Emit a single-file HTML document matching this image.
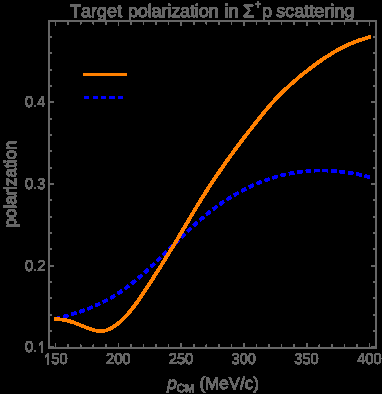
<!DOCTYPE html>
<html><head><meta charset="utf-8"><title>Target polarization</title>
<style>
html,body{margin:0;padding:0;background:#000;}
body{width:382px;height:394px;overflow:hidden;position:relative;font-family:"Liberation Sans",sans-serif;}
</style></head><body>
<svg width="382" height="394" viewBox="0 0 382 394" style="display:block;position:absolute;left:0;top:0">
<defs><filter id="fB" x="0" y="0" width="382" height="394" filterUnits="userSpaceOnUse" color-interpolation-filters="sRGB"><feComponentTransfer in="SourceAlpha" result="a"><feFuncA type="discrete" tableValues="0 1 1 1 1 1 1 1 1 1 1 1 1 1 1 1"/></feComponentTransfer><feFlood flood-color="#0000ff" flood-opacity="1" result="c"/><feComposite in="c" in2="a" operator="in"/></filter><filter id="fO" x="0" y="0" width="382" height="394" filterUnits="userSpaceOnUse" color-interpolation-filters="sRGB"><feComponentTransfer in="SourceAlpha" result="a"><feFuncA type="discrete" tableValues="0 1 1 1 1 1 1 1 1 1 1 1 1 1 1 1"/></feComponentTransfer><feFlood flood-color="#ff8000" flood-opacity="1" result="c"/><feComposite in="c" in2="a" operator="in"/></filter><filter id="fG" x="0" y="0" width="382" height="394" filterUnits="userSpaceOnUse" color-interpolation-filters="sRGB"><feComponentTransfer in="SourceAlpha" result="a"><feFuncA type="discrete" tableValues="0 1 1 1 1 1 1 1 1 1 1 1 1 1 1 1"/></feComponentTransfer><feFlood flood-color="#666666" flood-opacity="1" result="c"/><feComposite in="c" in2="a" operator="in"/></filter><clipPath id="cx"><rect x="51" y="345" width="30" height="30"/></clipPath><clipPath id="cy"><rect x="15" y="335" width="22.4" height="25"/></clipPath></defs>
<rect x="0" y="0" width="382" height="394" fill="#000"/>
<g filter="url(#fB)">
<path d="M55.20,318.86 L56.64,318.50 L58.08,318.13 L59.52,317.77 L60.96,317.39 L62.39,317.01 L63.83,316.62 L65.27,316.23 L66.71,315.82 L68.15,315.41 L69.59,314.99 L71.03,314.56 L72.47,314.13 L73.90,313.68 L75.34,313.22 L76.78,312.76 L78.22,312.28 L79.66,311.79 L81.10,311.29 L82.54,310.78 L83.98,310.26 L85.42,309.73 L86.85,309.18 L88.29,308.62 L89.73,308.04 L91.17,307.45 L92.61,306.85 L94.05,306.23 L95.49,305.60 L96.93,304.95 L98.36,304.29 L99.80,303.61 L101.24,302.91 L102.68,302.20 L104.12,301.47 L105.56,300.72 L107.00,299.95 L108.44,299.16 L109.87,298.36 L111.31,297.54 L112.75,296.70 L114.19,295.83 L115.63,294.95 L117.07,294.05 L118.51,293.12 L119.95,292.18 L121.39,291.21 L122.82,290.22 L124.26,289.21 L125.70,288.17 L127.14,287.11 L128.58,286.03 L130.02,284.93 L131.46,283.80 L132.90,282.65 L134.33,281.49 L135.77,280.30 L137.21,279.09 L138.65,277.87 L140.09,276.63 L141.53,275.37 L142.97,274.10 L144.41,272.82 L145.85,271.52 L147.28,270.20 L148.72,268.88 L150.16,267.54 L151.60,266.19 L153.04,264.83 L154.48,263.46 L155.92,262.09 L157.36,260.70 L158.79,259.31 L160.23,257.92 L161.67,256.52 L163.11,255.11 L164.55,253.70 L165.99,252.29 L167.43,250.87 L168.87,249.45 L170.31,248.04 L171.74,246.62 L173.18,245.20 L174.62,243.79 L176.06,242.38 L177.50,240.97 L178.94,239.56 L180.38,238.16 L181.82,236.77 L183.25,235.38 L184.69,234.00 L186.13,232.63 L187.57,231.27 L189.01,229.91 L190.45,228.57 L191.89,227.24 L193.33,225.92 L194.76,224.61 L196.20,223.31 L197.64,222.03 L199.08,220.77 L200.52,219.52 L201.96,218.29 L203.40,217.07 L204.84,215.87 L206.28,214.69 L207.71,213.53 L209.15,212.38 L210.59,211.25 L212.03,210.14 L213.47,209.04 L214.91,207.97 L216.35,206.90 L217.79,205.86 L219.22,204.83 L220.66,203.82 L222.10,202.82 L223.54,201.84 L224.98,200.88 L226.42,199.94 L227.86,199.01 L229.30,198.09 L230.74,197.19 L232.17,196.31 L233.61,195.45 L235.05,194.60 L236.49,193.77 L237.93,192.95 L239.37,192.15 L240.81,191.36 L242.25,190.59 L243.68,189.84 L245.12,189.10 L246.56,188.37 L248.00,187.66 L249.44,186.97 L250.88,186.29 L252.32,185.63 L253.76,184.98 L255.19,184.35 L256.63,183.74 L258.07,183.13 L259.51,182.55 L260.95,181.97 L262.39,181.42 L263.83,180.87 L265.27,180.35 L266.71,179.83 L268.14,179.33 L269.58,178.85 L271.02,178.38 L272.46,177.92 L273.90,177.48 L275.34,177.05 L276.78,176.64 L278.22,176.24 L279.65,175.86 L281.09,175.49 L282.53,175.13 L283.97,174.79 L285.41,174.46 L286.85,174.14 L288.29,173.84 L289.73,173.55 L291.17,173.28 L292.60,173.01 L294.04,172.77 L295.48,172.53 L296.92,172.31 L298.36,172.10 L299.80,171.91 L301.24,171.73 L302.68,171.56 L304.11,171.40 L305.55,171.26 L306.99,171.13 L308.43,171.01 L309.87,170.91 L311.31,170.81 L312.75,170.74 L314.19,170.67 L315.63,170.61 L317.06,170.57 L318.50,170.54 L319.94,170.53 L321.38,170.52 L322.82,170.53 L324.26,170.55 L325.70,170.58 L327.14,170.62 L328.57,170.68 L330.01,170.74 L331.45,170.82 L332.89,170.91 L334.33,171.02 L335.77,171.13 L337.21,171.25 L338.65,171.39 L340.08,171.54 L341.52,171.70 L342.96,171.87 L344.40,172.05 L345.84,172.24 L347.28,172.45 L348.72,172.66 L350.16,172.89 L351.60,173.13 L353.03,173.38 L354.47,173.63 L355.91,173.90 L357.35,174.18 L358.79,174.47 L360.23,174.78 L361.67,175.09 L363.11,175.41 L364.54,175.74 L365.98,176.09 L367.42,176.44 L368.86,176.80 L370.30,177.17" fill="none" stroke="#0000ff" stroke-width="3.0" stroke-dasharray="5.0 3.483" stroke-dashoffset="0.0"/>
<rect x="84.2" y="96.2" width="4.599999999999994" height="2.5999999999999943" fill="#0000ff"/>
<rect x="93.2" y="96.2" width="4.599999999999994" height="2.5999999999999943" fill="#0000ff"/>
<rect x="101.2" y="96.2" width="4.599999999999994" height="2.5999999999999943" fill="#0000ff"/>
<rect x="109.2" y="96.2" width="5.599999999999994" height="2.5999999999999943" fill="#0000ff"/>
<rect x="118.2" y="96.2" width="4.599999999999994" height="2.5999999999999943" fill="#0000ff"/>
</g>
<g filter="url(#fO)">
<path d="M54.40,318.97 L55.84,319.03 L57.29,319.12 L58.73,319.24 L60.18,319.39 L61.62,319.57 L63.07,319.79 L64.51,320.05 L65.96,320.34 L67.40,320.66 L68.85,321.03 L70.29,321.44 L71.74,321.88 L73.18,322.37 L74.63,322.89 L76.07,323.43 L77.52,324.00 L78.96,324.58 L80.41,325.17 L81.85,325.77 L83.29,326.37 L84.74,326.96 L86.18,327.53 L87.63,328.09 L89.07,328.63 L90.52,329.13 L91.96,329.60 L93.41,330.01 L94.85,330.37 L96.30,330.65 L97.74,330.86 L99.19,330.99 L100.63,331.02 L102.08,330.95 L103.52,330.77 L104.97,330.49 L106.41,330.11 L107.86,329.63 L109.30,329.06 L110.75,328.39 L112.19,327.62 L113.63,326.77 L115.08,325.83 L116.52,324.80 L117.97,323.68 L119.41,322.48 L120.86,321.20 L122.30,319.84 L123.75,318.40 L125.19,316.89 L126.64,315.31 L128.08,313.67 L129.53,311.96 L130.97,310.19 L132.42,308.37 L133.86,306.50 L135.31,304.57 L136.75,302.61 L138.20,300.60 L139.64,298.55 L141.08,296.47 L142.53,294.36 L143.97,292.22 L145.42,290.05 L146.86,287.87 L148.31,285.66 L149.75,283.43 L151.20,281.18 L152.64,278.92 L154.09,276.65 L155.53,274.37 L156.98,272.09 L158.42,269.80 L159.87,267.50 L161.31,265.21 L162.76,262.90 L164.20,260.59 L165.65,258.28 L167.09,255.96 L168.54,253.64 L169.98,251.30 L171.42,248.95 L172.87,246.59 L174.31,244.22 L175.76,241.84 L177.20,239.44 L178.65,237.03 L180.09,234.61 L181.54,232.18 L182.98,229.75 L184.43,227.31 L185.87,224.86 L187.32,222.42 L188.76,219.97 L190.21,217.53 L191.65,215.10 L193.10,212.67 L194.54,210.26 L195.99,207.87 L197.43,205.49 L198.87,203.14 L200.32,200.80 L201.76,198.48 L203.21,196.18 L204.65,193.90 L206.10,191.64 L207.54,189.39 L208.99,187.16 L210.43,184.95 L211.88,182.76 L213.32,180.58 L214.77,178.42 L216.21,176.27 L217.66,174.14 L219.10,172.03 L220.55,169.93 L221.99,167.84 L223.44,165.77 L224.88,163.72 L226.33,161.67 L227.77,159.65 L229.21,157.63 L230.66,155.63 L232.10,153.64 L233.55,151.66 L234.99,149.70 L236.44,147.74 L237.88,145.80 L239.33,143.87 L240.77,141.95 L242.22,140.05 L243.66,138.15 L245.11,136.26 L246.55,134.38 L248.00,132.52 L249.44,130.66 L250.89,128.81 L252.33,126.97 L253.78,125.14 L255.22,123.32 L256.66,121.50 L258.11,119.70 L259.55,117.90 L261.00,116.11 L262.44,114.33 L263.89,112.56 L265.33,110.82 L266.78,109.09 L268.22,107.39 L269.67,105.72 L271.11,104.07 L272.56,102.46 L274.00,100.88 L275.45,99.32 L276.89,97.79 L278.34,96.29 L279.78,94.81 L281.23,93.36 L282.67,91.93 L284.12,90.53 L285.56,89.15 L287.00,87.79 L288.45,86.45 L289.89,85.13 L291.34,83.83 L292.78,82.54 L294.23,81.28 L295.67,80.03 L297.12,78.80 L298.56,77.59 L300.01,76.39 L301.45,75.20 L302.90,74.03 L304.34,72.87 L305.79,71.72 L307.23,70.58 L308.68,69.46 L310.12,68.36 L311.57,67.26 L313.01,66.18 L314.45,65.12 L315.90,64.06 L317.34,63.03 L318.79,62.00 L320.23,61.00 L321.68,60.01 L323.12,59.03 L324.57,58.07 L326.01,57.12 L327.46,56.20 L328.90,55.28 L330.35,54.39 L331.79,53.51 L333.24,52.65 L334.68,51.80 L336.13,50.97 L337.57,50.16 L339.02,49.37 L340.46,48.60 L341.91,47.84 L343.35,47.11 L344.79,46.39 L346.24,45.69 L347.68,45.01 L349.13,44.35 L350.57,43.71 L352.02,43.08 L353.46,42.48 L354.91,41.90 L356.35,41.34 L357.80,40.80 L359.24,40.28 L360.69,39.78 L362.13,39.31 L363.58,38.85 L365.02,38.42 L366.47,38.01 L367.91,37.62 L369.36,37.25 L370.80,36.91" fill="none" stroke="#ff8000" stroke-width="3.0" stroke-linejoin="round"/>
<rect x="83.2" y="73.2" width="43.599999999999994" height="2.5999999999999943" fill="#ff8000"/>
</g>
<g filter="url(#fG)">
<rect x="49" y="21" width="327" height="327" fill="none" stroke="#666666" stroke-width="1.6"/>
<path d="M55.21,343.20 H56.01 V348.00 H55.21 Z M55.21,21.00 H56.01 V25.80 H55.21 Z M67.77,344.40 H68.57 V348.00 H67.77 Z M67.77,21.00 H68.57 V24.60 H67.77 Z M80.32,344.40 H81.12 V348.00 H80.32 Z M80.32,21.00 H81.12 V24.60 H80.32 Z M92.88,344.40 H93.68 V348.00 H92.88 Z M92.88,21.00 H93.68 V24.60 H92.88 Z M105.44,344.40 H106.24 V348.00 H105.44 Z M105.44,21.00 H106.24 V24.60 H105.44 Z M118.00,343.20 H118.80 V348.00 H118.00 Z M118.00,21.00 H118.80 V25.80 H118.00 Z M130.55,344.40 H131.35 V348.00 H130.55 Z M130.55,21.00 H131.35 V24.60 H130.55 Z M143.11,344.40 H143.91 V348.00 H143.11 Z M143.11,21.00 H143.91 V24.60 H143.11 Z M155.67,344.40 H156.47 V348.00 H155.67 Z M155.67,21.00 H156.47 V24.60 H155.67 Z M168.22,344.40 H169.02 V348.00 H168.22 Z M168.22,21.00 H169.02 V24.60 H168.22 Z M180.78,343.20 H181.58 V348.00 H180.78 Z M180.78,21.00 H181.58 V25.80 H180.78 Z M193.34,344.40 H194.14 V348.00 H193.34 Z M193.34,21.00 H194.14 V24.60 H193.34 Z M205.89,344.40 H206.69 V348.00 H205.89 Z M205.89,21.00 H206.69 V24.60 H205.89 Z M218.45,344.40 H219.25 V348.00 H218.45 Z M218.45,21.00 H219.25 V24.60 H218.45 Z M231.01,344.40 H231.81 V348.00 H231.01 Z M231.01,21.00 H231.81 V24.60 H231.01 Z M243.57,343.20 H244.37 V348.00 H243.57 Z M243.57,21.00 H244.37 V25.80 H243.57 Z M256.12,344.40 H256.92 V348.00 H256.12 Z M256.12,21.00 H256.92 V24.60 H256.12 Z M268.68,344.40 H269.48 V348.00 H268.68 Z M268.68,21.00 H269.48 V24.60 H268.68 Z M281.24,344.40 H282.04 V348.00 H281.24 Z M281.24,21.00 H282.04 V24.60 H281.24 Z M293.79,344.40 H294.59 V348.00 H293.79 Z M293.79,21.00 H294.59 V24.60 H293.79 Z M306.35,343.20 H307.15 V348.00 H306.35 Z M306.35,21.00 H307.15 V25.80 H306.35 Z M318.91,344.40 H319.71 V348.00 H318.91 Z M318.91,21.00 H319.71 V24.60 H318.91 Z M331.46,344.40 H332.26 V348.00 H331.46 Z M331.46,21.00 H332.26 V24.60 H331.46 Z M344.02,344.40 H344.82 V348.00 H344.02 Z M344.02,21.00 H344.82 V24.60 H344.02 Z M356.58,344.40 H357.38 V348.00 H356.58 Z M356.58,21.00 H357.38 V24.60 H356.58 Z M369.14,343.20 H369.94 V348.00 H369.14 Z M369.14,21.00 H369.94 V25.80 H369.14 Z M49.00,346.60 H53.80 V347.80 H49.00 Z M371.20,346.60 H376.00 V347.80 H371.20 Z M49.00,330.28 H51.80 V331.48 H49.00 Z M373.20,330.28 H376.00 V331.48 H373.20 Z M49.00,313.96 H51.80 V315.16 H49.00 Z M373.20,313.96 H376.00 V315.16 H373.20 Z M49.00,297.64 H51.80 V298.84 H49.00 Z M373.20,297.64 H376.00 V298.84 H373.20 Z M49.00,281.32 H51.80 V282.52 H49.00 Z M373.20,281.32 H376.00 V282.52 H373.20 Z M49.00,265.00 H53.80 V266.20 H49.00 Z M371.20,265.00 H376.00 V266.20 H371.20 Z M49.00,248.68 H51.80 V249.88 H49.00 Z M373.20,248.68 H376.00 V249.88 H373.20 Z M49.00,232.36 H51.80 V233.56 H49.00 Z M373.20,232.36 H376.00 V233.56 H373.20 Z M49.00,216.04 H51.80 V217.24 H49.00 Z M373.20,216.04 H376.00 V217.24 H373.20 Z M49.00,199.72 H51.80 V200.92 H49.00 Z M373.20,199.72 H376.00 V200.92 H373.20 Z M49.00,183.40 H53.80 V184.60 H49.00 Z M371.20,183.40 H376.00 V184.60 H371.20 Z M49.00,167.08 H51.80 V168.28 H49.00 Z M373.20,167.08 H376.00 V168.28 H373.20 Z M49.00,150.76 H51.80 V151.96 H49.00 Z M373.20,150.76 H376.00 V151.96 H373.20 Z M49.00,134.44 H51.80 V135.64 H49.00 Z M373.20,134.44 H376.00 V135.64 H373.20 Z M49.00,118.12 H51.80 V119.32 H49.00 Z M373.20,118.12 H376.00 V119.32 H373.20 Z M49.00,101.80 H53.80 V103.00 H49.00 Z M371.20,101.80 H376.00 V103.00 H371.20 Z M49.00,85.48 H51.80 V86.68 H49.00 Z M373.20,85.48 H376.00 V86.68 H373.20 Z M49.00,69.16 H51.80 V70.36 H49.00 Z M373.20,69.16 H376.00 V70.36 H373.20 Z M49.00,52.84 H51.80 V54.04 H49.00 Z M373.20,52.84 H376.00 V54.04 H373.20 Z M49.00,36.52 H51.80 V37.72 H49.00 Z M373.20,36.52 H376.00 V37.72 H373.20 Z" fill="#666666" stroke="none"/>
<g font-family="Liberation Sans, sans-serif" font-size="14.6px" fill="#666666" stroke="#666666" stroke-width="0.15" stroke-linejoin="round" text-rendering="geometricPrecision" style="font-kerning:none">
<path d="M47.1,353.1 h1.6 V364.9 h-1.6 Z M47.6,353.1 L45.2,356.1 V357.5 L47.4,355.70000000000005 Z" fill="#666666" stroke="none"/>
<g clip-path="url(#cx)"><text transform="translate(43.23,363.90) scale(1,1.08)">150</text></g>
<text transform="translate(106.02,363.90) scale(1,1.08)">200</text>
<text transform="translate(168.80,363.90) scale(1,1.08)">250</text>
<text transform="translate(231.59,363.90) scale(1,1.08)">300</text>
<text transform="translate(294.37,363.90) scale(1,1.08)">350</text>
<text transform="translate(357.16,363.90) scale(1,1.08)">400</text>
<path d="M41.2,341.1 h1.6 V352.9 h-1.6 Z M41.7,341.1 L39.300000000000004,344.1 V345.5 L41.5,343.70000000000005 Z" fill="#666666" stroke="none"/>
<g clip-path="url(#cy)"><text transform="translate(25.10,352.10) scale(1,1.08)">0.1</text></g>
<text transform="translate(25.10,270.50) scale(1,1.08)">0.2</text>
<text transform="translate(25.10,188.90) scale(1,1.08)">0.3</text>
<text transform="translate(25.10,107.30) scale(1,1.08)">0.4</text>
</g>
<g font-family="Liberation Sans, sans-serif" font-size="18px" fill="#666666" stroke="#666666" stroke-width="0.4" stroke-linejoin="round" text-rendering="geometricPrecision" style="font-kerning:none">
<text y="16.8"><tspan x="69.9">Target </tspan><tspan x="127.9" letter-spacing="-0.12">polarization </tspan><tspan x="224.5" letter-spacing="0">in </tspan><tspan x="242.9">Σ</tspan><tspan x="254.7" y="8.4" font-size="11px">+</tspan><tspan x="262.1" y="16.8">p </tspan><tspan x="276.3">scattering</tspan></text>
</g>
<g font-family="Liberation Sans, sans-serif" font-size="17px" fill="#666666" stroke="#666666" stroke-width="0.35" stroke-linejoin="round" text-rendering="geometricPrecision" style="font-kerning:none">
<text transform="translate(15.6,184) rotate(-90)" text-anchor="middle">polarization</text>
<text x="167.3" y="388.6"><tspan font-style="italic">p</tspan><tspan font-size="11.5px" dy="3">CM</tspan><tspan dy="-3"> (MeV/c)</tspan></text>
</g>
</g>
</svg>
</body></html>
